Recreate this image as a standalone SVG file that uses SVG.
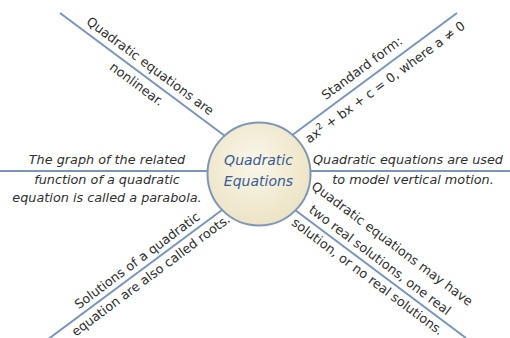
<svg xmlns="http://www.w3.org/2000/svg" width="510" height="338" viewBox="0 0 510 338">
<defs>
<radialGradient id="fillGrad" cx="0.45" cy="0.4" r="0.65">
<stop offset="0" stop-color="#faf7ea"/>
<stop offset="1" stop-color="#ebe2c2"/>
</radialGradient>
<style>
.spoke{stroke:#7895bb;stroke-width:2;fill:none}
.t{font-family:"DejaVu Sans","Liberation Sans",sans-serif;font-size:12.8px;fill:#2f2f2f;text-anchor:middle}
.ti{font-style:oblique}
.hub{fill:url(#fillGrad);stroke:#7d97b7;stroke-width:2}
.ht{font-family:"DejaVu Sans","Liberation Sans",sans-serif;font-size:14px;font-style:oblique;fill:#3b5b94;text-anchor:middle}
</style>
</defs>
<rect width="510" height="338" fill="#ffffff"/>
<g id="connectors">
<line class="spoke" x1="0" y1="171" x2="230" y2="171"/>
<line class="spoke" x1="288" y1="171" x2="510" y2="171"/>
<line class="spoke" x1="60" y1="13" x2="225" y2="136"/>
<line class="spoke" x1="457" y1="13" x2="291" y2="136"/>
<line class="spoke" x1="226" y1="207" x2="47" y2="340"/>
<line class="spoke" x1="291" y1="207" x2="466" y2="338"/>
</g>
<g id="hub">
<circle class="hub" cx="259" cy="174" r="51.5"/>
<text class="ht" x="258.5" y="165">Quadratic</text>
<text class="ht" x="258.5" y="185.5">Equations</text>
</g>
<g id="node-left">
<text class="t ti" x="107" y="164">The graph of the related</text>
<text class="t ti" x="107" y="184">function of a quadratic</text>
<text class="t ti" x="107" y="202">equation is called a parabola.</text>
</g>
<g id="node-right">
<text class="t ti" x="408" y="164">Quadratic equations are used</text>
<text class="t ti" x="413" y="184">to model vertical motion.</text>
</g>
<g id="node-upper-left" transform="translate(60,13) rotate(36.7)">
<text class="t" x="104" y="-7">Quadratic equations are</text>
<text class="t" x="104" y="15.5">nonlinear.</text>
</g>
<g id="node-upper-right" transform="translate(295,133) rotate(-36.5)">
<text class="t" x="92.5" y="-8">Standard form:</text>
<text class="t" x="102.6" y="17">ax<tspan dy="-5" font-size="9">2</tspan><tspan dy="5"> + bx + c = 0, where a ≠ 0</tspan></text>
</g>
<g id="node-lower-left" transform="translate(60,331) rotate(-36.7)">
<text class="t" x="104" y="-6">Solutions of a quadratic</text>
<text class="t" x="106" y="14" font-size="12">equation are also called roots.</text>
</g>
<g id="node-lower-right" transform="translate(295,210) rotate(36.87)">
<text class="t" x="98" y="-27">Quadratic equations may have</text>
<text class="t" x="98" y="-6.6">two real solutions, one real</text>
<text class="t" x="98" y="14.1">solution, or no real solutions.</text>
</g>
</svg>
